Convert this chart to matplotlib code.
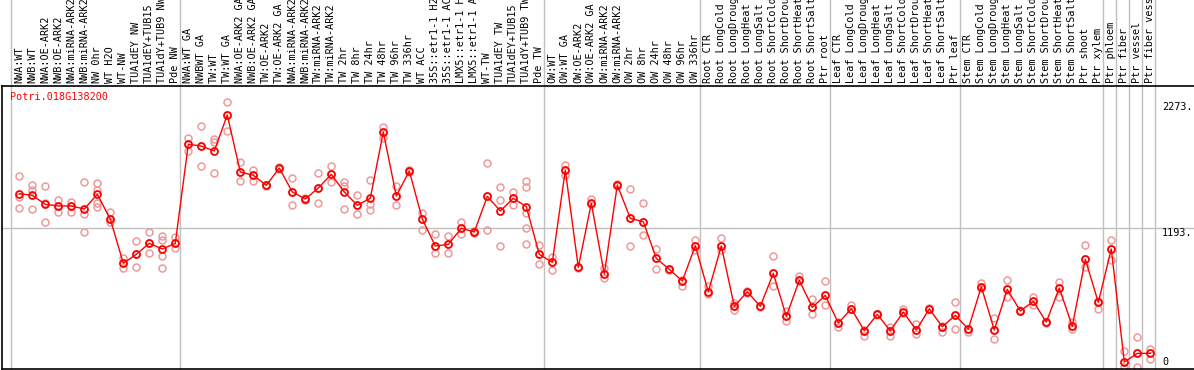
import numpy as np
import matplotlib.pyplot as plt
import matplotlib.transforms as mtransforms

# sample names as shown (the header truncates them to 14 characters)
samples = [
    "NWA:WT", "NWB:WT", "NWA:OE-ARK2", "NWB:OE-ARK2", "NWA:miRNA-ARK2", "NWB:miRNA-ARK2",
    "NW 0hr", "WT H2O", "WT-NW", "TUA1dEY NW", "TUA1dEY+TUB15", "TUA1dY+TUB9 NW", "Pde NW",
    "NWA:WT GA", "NWBWT GA", "TW:WT", "TW:WT GA", "NWA:OE-ARK2 GA", "NWB:OE-ARK2 GA",
    "TW:OE-ARK2", "TW:OE-ARK2 GA", "NWA:miRNA-ARK2", "NWB:miRNA-ARK2", "TW:miRNA-ARK2",
    "TW:miRNA-ARK2", "TW 2hr", "TW 8hr", "TW 24hr", "TW 48hr", "TW 96hr", "TW 336hr",
    "WT ACC", "35S::etr1-1 H2", "35S::etr1-1 AC", "LMX5::etr1-1 H", "LMX5::etr1-1 A",
    "WT-TW", "TUA1dEY TW", "TUA1dEY+TUB15", "TUA1dY+TUB9 TW", "Pde TW",
    "OW:WT", "OW:WT GA", "OW:OE-ARK2", "OW:OE-ARK2 GA", "OW:miRNA-ARK2", "OW:miRNA-ARK2",
    "OW 2hr", "OW 8hr", "OW 24hr", "OW 48hr", "OW 96hr", "OW 336hr",
    "Root CTR", "Root LongCold", "Root LongDroug", "Root LongHeat", "Root LongSalt",
    "Root ShortCold", "Root ShortDrou", "Root ShortHeat", "Root ShortSalt", "Ptr root",
    "Leaf CTR", "Leaf LongCold", "Leaf LongDroug", "Leaf LongHeat", "Leaf LongSalt",
    "Leaf ShortCold", "Leaf ShortDrou", "Leaf ShortHeat", "Leaf ShortSalt", "Ptr leaf",
    "Stem CTR", "Stem LongCold", "Stem LongDroug", "Stem LongHeat", "Stem LongSalt",
    "Stem ShortCold", "Stem ShortDrou", "Stem ShortHeat", "Stem ShortSalt", "Ptr shoot",
    "Ptr xylem", "Ptr phloem", "Ptr fiber", "Ptr vessel", "Ptr fiber vess",
]

# first sample of each group (grey separators)
group_starts = [0, 13, 41, 53, 63, 73, 84, 85, 86, 87]

means = [
    1487, 1473, 1396, 1382, 1382, 1356, 1482, 1270, 891, 968, 1062, 1013, 1062,
    1910, 1896, 1853, 2162, 1673, 1645, 1559, 1707, 1502, 1442, 1536, 1653, 1502,
    1388, 1448, 2016, 1467, 1682, 1270, 1039, 1053, 1191, 1159, 1465, 1339, 1448,
    1376, 968,
    899, 1688, 856, 1405, 799, 1562, 1276, 1247, 933, 839, 739, 1041,
    647, 1039, 522, 647, 522, 805, 436, 745, 513, 616,
    379, 501, 313, 453, 313, 473, 319, 501, 347, 445,
    327, 690, 319, 668, 482, 565, 387, 679, 351, 925, 556,
    1013, 45, 119, 119,
]

replicates = [
    [1636, 1461, 1362], [1562, 1519, 1356], [1550, 1410, 1242], [1433, 1328, 1382],
    [1413, 1330, 1382], [1585, 1313, 1156], [1579, 1519, 1405, 1370], [1328, 1242, 1270],
    [939, 848, 891], [1079, 856, 968], [1156, 976, 1062], [1124, 1090, 956, 848],
    [1113, 1024, 1062],
    [1962, 1856, 1910], [2065, 1724, 1896], [1953, 1930, 1662], [2273, 2022, 2162],
    [1759, 1593, 1673], [1690, 1598, 1645], [1550, 1565, 1559], [1700, 1715, 1707],
    [1619, 1388, 1502], [1442, 1450, 1435], [1662, 1405, 1536], [1724, 1585, 1653],
    [1590, 1553, 1356], [1473, 1316, 1388], [1604, 1401, 1345], [2059, 1962, 2016],
    [1553, 1388, 1467], [1690, 1675, 1682], [1319, 1176, 1270], [1139, 976, 1039],
    [1124, 976, 1053], [1244, 1142, 1191], [1165, 1150, 1159], [1750, 1176, 1465],
    [1542, 1433, 1039], [1504, 1388, 1448], [1598, 1542, 1319, 1191, 1056],
    [1047, 885, 968],
    [947, 831, 899], [1733, 1647, 1688], [850, 862, 856], [1442, 1400, 1395],
    [848, 762, 799], [1570, 1555, 1562], [1525, 1039, 1276], [1405, 1130, 1247],
    [1011, 839, 933], [845, 835, 839], [696, 739, 745], [1090, 1005, 1041],
    [696, 627, 647], [1105, 1005, 1039], [553, 490, 522], [655, 640, 647],
    [528, 515, 522], [953, 698, 805], [484, 398, 436], [784, 745, 740],
    [584, 453, 513], [736, 530, 616],
    [347, 379, 385], [533, 501, 495], [267, 313, 320], [460, 450, 453],
    [347, 267, 313], [496, 473, 465], [370, 282, 319], [510, 495, 501],
    [304, 347, 350], [556, 325, 445],
    [299, 327, 330], [719, 690, 680], [419, 244, 319], [745, 604, 668],
    [490, 478, 482], [604, 536, 565], [392, 383, 387], [730, 604, 679],
    [390, 325, 351], [1047, 861, 925], [496, 556, 565],
    [1090, 919, 1013], [0, 45, 136], [256, 0, 119], [153, 68, 119],
]

gene = "Potri.018G138200"
y_max = 2273
y_mid = 1193

W, H = 1194, 370
fig = plt.figure(figsize=(W / 100, H / 100), dpi=100)
top_px, bot_px, left_px = 86, 369, 1.5
ax = fig.add_axes([left_px / W, (H - bot_px) / H, 1 - left_px / W, (bot_px - top_px) / H])

# x: sample i sits at pixel 19.3 + 13 i ; y: value 0 at pixel 367
ax.set_xlim((left_px - 19.3) / 13, (W - 19.3) / 13)
ax.set_ylim(-15, 2410)
ax.set_xticks([])
ax.set_yticks([])
ax.spines['right'].set_visible(False)
for s in ['top', 'bottom', 'left']:
    ax.spines[s].set_linewidth(1.2)
    ax.spines[s].set_color('black')

mono = 'DejaVu Sans Mono'
grey = '#c0c0c0'
ext = bot_px / (bot_px - top_px)

for g in group_starts:
    ax.axvline(g - 0.62, ymin=0, ymax=ext, color=grey, lw=1, clip_on=False, zorder=1)
ax.axvline(len(samples) - 0.62, ymin=0, ymax=ext, color=grey, lw=1, clip_on=False, zorder=1)
ax.axhline(y_mid, color=grey, lw=1, zorder=1)

x = np.arange(len(samples))
for i, reps in enumerate(replicates):
    ax.plot([i] * len(reps), reps, 'o', ms=5, mfc='none', mec='#ee9999', mew=1.1,
            zorder=2, clip_on=False)
ax.plot(x, means, '-', color='red', lw=1, zorder=3)
ax.plot(x, means, 'o', ms=5, mfc='none', mec='red', mew=1.3, zorder=4)

# rotated sample names in the header
hdr = mtransforms.blended_transform_factory(ax.transData, fig.transFigure)
for i, name in enumerate(samples):
    ax.text(i, (H - 83) / H, name, rotation=90, ha='center', va='bottom',
            family=mono, fontsize=7.3, transform=hdr, clip_on=False)

# right-hand value labels
lbl = mtransforms.blended_transform_factory(fig.transFigure, ax.transData)
ax.text(1162 / W, y_max, "2273.", ha='left', va='top', family=mono, fontsize=7.3, transform=lbl)
ax.text(1162 / W, y_mid, "1193.", ha='left', va='top', family=mono, fontsize=7.3, transform=lbl)
ax.text(1162 / W, 0, "0", ha='left', va='bottom', family=mono, fontsize=7.3, transform=lbl)

ax.text(10 / W, (H - 97) / H, gene, color='red', ha='left', va='center',
        family=mono, fontsize=7.3, transform=fig.transFigure)

fig.savefig('out.png', dpi=100)
